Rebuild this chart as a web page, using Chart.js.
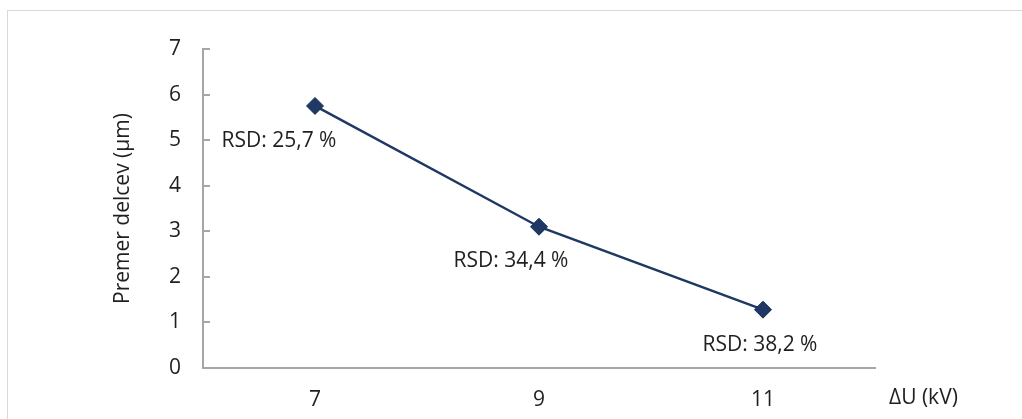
<!DOCTYPE html>
<html>
<head>
<meta charset="utf-8">
<script src="https://cdn.jsdelivr.net/npm/chart.js@4/dist/chart.umd.min.js"></script>
<style>
  html, body { margin: 0; padding: 0; background: #ffffff; }
  #wrap { width: 1022px; height: 419px; }
</style>
</head>
<body>
<div id="wrap"><canvas id="c" width="1022" height="419"></canvas></div>
<script>
// Particle diameter vs. voltage difference
const categories = ['7', '9', '11'];
const diameters = [5.75, 3.1, 1.28];
const rsdLabels = ['RSD: 25,7 %', 'RSD: 34,4 %', 'RSD: 38,2 %'];
const yTicks = [0, 1, 2, 3, 4, 5, 6, 7];

const FONT = '"Open Sans", "DejaVu Sans", sans-serif';
const FSIZE = 21;
const TEXT = '#1F1F1F';
const AXIS = '#A6A6A6';
const NAVY = '#1F3864';

// label offsets relative to each point (text centre)
const labelOffsets = [[-36, 35], [-28, 34], [-3, 35]];

const frame = {
  id: 'frame',
  beforeDraw(chart) {
    const ctx = chart.ctx;
    ctx.save();
    ctx.fillStyle = '#ffffff';
    ctx.fillRect(0, 0, chart.width, chart.height);
    ctx.strokeStyle = '#D9D9D9';
    ctx.lineWidth = 1;
    ctx.strokeRect(7.5, 10.5, chart.width + 20, chart.height + 20);
    ctx.restore();
  },
  afterDraw(chart) {
    const ctx = chart.ctx;
    const area = chart.chartArea;
    ctx.save();
    ctx.font = FSIZE + 'px ' + FONT;
    ctx.fillStyle = TEXT;
    ctx.textBaseline = 'middle';
    ctx.textAlign = 'left';
    ctx.fillText('ΔU (kV)', area.right + 14, 398);
    ctx.restore();
  }
};

const rsdText = {
  id: 'rsdText',
  afterDatasetsDraw(chart) {
    const ctx = chart.ctx;
    const meta = chart.getDatasetMeta(0);
    ctx.save();
    ctx.font = FSIZE + 'px ' + FONT;
    ctx.fillStyle = TEXT;
    ctx.textAlign = 'center';
    ctx.textBaseline = 'middle';
    meta.data.forEach((pt, i) => {
      const [dx, dy] = labelOffsets[i];
      ctx.fillText(rsdLabels[i], pt.x + dx, pt.y + dy);
    });
    ctx.restore();
  }
};

new Chart(document.getElementById('c'), {
  type: 'line',
  data: {
    labels: categories,
    datasets: [{
      data: diameters,
      borderColor: NAVY,
      borderWidth: 2.5,
      pointStyle: 'rectRot',
      pointRadius: 8.5,
      pointHoverRadius: 8.5,
      pointBackgroundColor: NAVY,
      pointBorderColor: '#17305A',
      pointBorderWidth: 1,
      tension: 0
    }]
  },
  options: {
    responsive: false,
    animation: false,
    events: [],
    layout: { padding: { left: 106, top: 49, right: 147, bottom: 0 } },
    plugins: {
      legend: { display: false },
      tooltip: { enabled: false }
    },
    scales: {
      x: {
        type: 'category',
        offset: true,
        grid: { display: false, drawTicks: false, drawOnChartArea: false },
        border: { display: true, color: AXIS, width: 2 },
        ticks: { color: TEXT, font: { family: FONT, size: FSIZE }, padding: 19, maxRotation: 0 },
        afterFit(scale) { scale.height = 51; }
      },
      y: {
        min: 0,
        max: 7,
        afterBuildTicks(scale) { scale.ticks = yTicks.map(v => ({ value: v })); },
        grid: { display: true, drawOnChartArea: false, drawTicks: true, tickLength: -7, color: AXIS, lineWidth: 2 },
        border: { display: true, color: AXIS, width: 2 },
        ticks: { color: TEXT, font: { family: FONT, size: FSIZE }, padding: 29 },
        title: {
          display: true,
          text: 'Premer delcev (µm)',
          color: TEXT,
          font: { family: FONT, size: FSIZE }
        },
        afterFit(scale) { scale.width = 97; }
      }
    }
  },
  plugins: [frame, rsdText]
});
</script>
</body>
</html>
